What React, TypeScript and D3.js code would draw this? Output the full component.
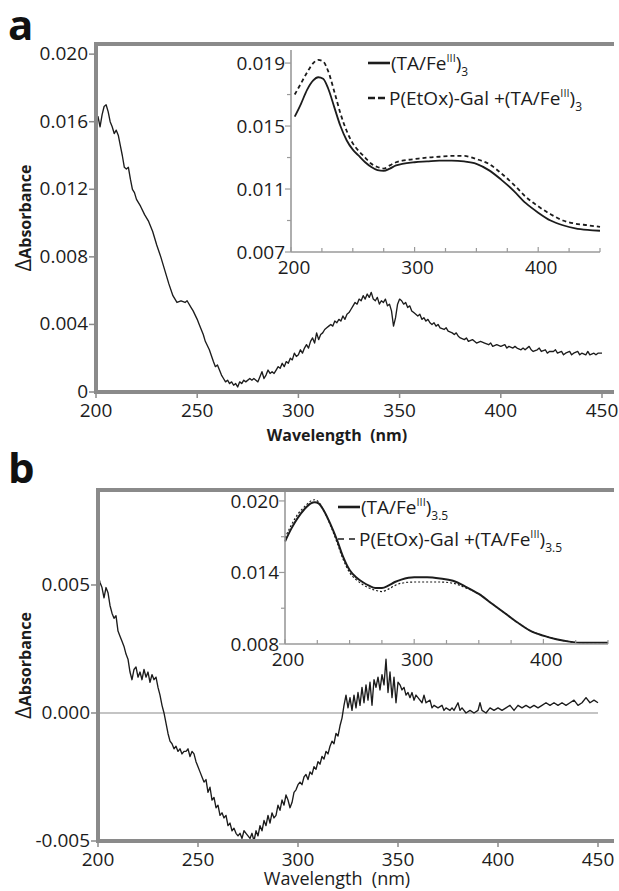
import React from "react";
import * as d3 from "d3";

// ---- data ----
// panel a: difference spectrum, [wavelength nm, delta absorbance]
const diffA: [number, number][] = [
  [200, 0.016], [201, 0.0163], [202, 0.0157], [203, 0.0164], [204, 0.0169], [205, 0.017], [206, 0.0166],
  [207, 0.016], [208, 0.0157], [209, 0.0153], [210, 0.0155], [211, 0.0152], [212, 0.0146], [213, 0.014],
  [214, 0.0133], [215, 0.0132], [216, 0.0133], [217, 0.0126], [218, 0.012], [219, 0.0118], [220, 0.0114],
  [222, 0.011], [224, 0.0105], [226, 0.0101], [228, 0.0095], [230, 0.0087], [232, 0.008], [234, 0.0072],
  [236, 0.0064], [238, 0.0057], [240, 0.0053], [242, 0.0054], [244, 0.0053], [245, 0.0054], [247, 0.005],
  [248, 0.0048], [250, 0.0043], [251, 0.004], [253, 0.0034], [254, 0.003], [256, 0.0025], [258, 0.0018],
  [259, 0.0015], [260, 0.0016], [261, 0.0013], [262, 0.001], [263, 0.0008], [264, 0.0006], [265, 0.0007],
  [266, 0.0005], [267, 0.0006], [268, 0.0004], [269, 0.0005], [270, 0.0003], [271, 0.0006], [272, 0.0005],
  [273, 0.0007], [274, 0.0006], [276, 0.0008], [277, 0.0007], [278, 0.0008], [279, 0.0007], [280, 0.0006],
  [281, 0.0009], [282, 0.0012], [283, 0.0008], [284, 0.001], [285, 0.0013], [286, 0.0011], [287, 0.0012],
  [288, 0.0011], [289, 0.0013], [290, 0.0015], [291, 0.0014], [292, 0.0017], [293, 0.0015], [294, 0.0018],
  [295, 0.0017], [296, 0.002], [297, 0.0019], [298, 0.0023], [299, 0.0021], [300, 0.0022], [301, 0.0025],
  [302, 0.0023], [303, 0.0026], [304, 0.0028], [305, 0.0026], [306, 0.003], [307, 0.0032], [308, 0.0029],
  [309, 0.0035], [310, 0.0031], [311, 0.0034], [312, 0.0035], [313, 0.0037], [314, 0.0038], [315, 0.0039],
  [316, 0.004], [317, 0.0039], [318, 0.0042], [319, 0.0041], [320, 0.0043], [321, 0.0042], [322, 0.0045],
  [323, 0.0043], [324, 0.0046], [325, 0.0047], [326, 0.0049], [327, 0.0051], [328, 0.0053], [329, 0.0052],
  [330, 0.0055], [331, 0.0054], [332, 0.0057], [333, 0.0055], [334, 0.0058], [335, 0.0056], [336, 0.0059],
  [337, 0.0055], [338, 0.0054], [339, 0.0056], [340, 0.0052], [341, 0.0054], [342, 0.0053], [343, 0.0055],
  [344, 0.0051], [345, 0.0052], [346, 0.0048], [347, 0.0039], [348, 0.0044], [349, 0.0052], [350, 0.0055],
  [351, 0.0054], [352, 0.0052], [353, 0.0053], [354, 0.005], [355, 0.0051], [356, 0.0048], [357, 0.0047],
  [358, 0.0046], [359, 0.0045], [360, 0.0046], [361, 0.0043], [362, 0.0044], [363, 0.0042], [364, 0.0043],
  [365, 0.0041], [366, 0.004], [367, 0.0041], [368, 0.0039], [369, 0.004], [370, 0.0038], [372, 0.0037],
  [373, 0.0038], [374, 0.0036], [376, 0.0035], [377, 0.0034], [378, 0.0035], [379, 0.0033], [380, 0.0032],
  [382, 0.0031], [383, 0.0032], [384, 0.003], [386, 0.0031], [387, 0.003], [388, 0.0029], [390, 0.003],
  [392, 0.0029], [394, 0.0028], [395, 0.0029], [396, 0.0027], [398, 0.0028], [400, 0.0027], [402, 0.0028],
  [403, 0.0026], [404, 0.0027], [406, 0.0026], [407, 0.0027], [408, 0.0026], [410, 0.0025], [411, 0.0026],
  [412, 0.0025], [414, 0.0027], [415, 0.0025], [416, 0.0024], [418, 0.0025], [419, 0.0026], [420, 0.0024],
  [422, 0.0025], [423, 0.0023], [424, 0.0024], [426, 0.0024], [427, 0.0025], [428, 0.0023], [430, 0.0024],
  [431, 0.0022], [432, 0.0023], [434, 0.0024], [435, 0.0022], [436, 0.0023], [438, 0.0024], [439, 0.0022],
  [440, 0.0023], [442, 0.0022], [443, 0.0024], [444, 0.0022], [446, 0.0023], [447, 0.0022], [448, 0.0023],
  [450, 0.0023],
];

// panel a inset: absorbance spectra
const insetA_solid: [number, number][] = [
  [203, 0.0156], [208, 0.0164], [213, 0.0173], [218, 0.0179], [222, 0.0181], [226, 0.018], [230, 0.0174],
  [235, 0.0162], [240, 0.015], [245, 0.0141], [250, 0.0135], [255, 0.0131], [260, 0.0127], [265, 0.0124],
  [270, 0.0122], [275, 0.01215], [280, 0.0123], [285, 0.0125], [290, 0.0126], [300, 0.0127], [310, 0.01275],
  [320, 0.0128], [330, 0.0128], [340, 0.01275], [350, 0.0126], [360, 0.0122], [370, 0.0116], [380, 0.0109],
  [390, 0.0101], [400, 0.0095], [410, 0.009], [420, 0.0087], [430, 0.0085], [440, 0.0084], [450, 0.00835],
];
const insetA_dashed: [number, number][] = [
  [203, 0.017], [208, 0.0177], [213, 0.0184], [218, 0.019], [222, 0.0192], [226, 0.0191], [230, 0.0185],
  [235, 0.0172], [240, 0.0158], [245, 0.0147], [250, 0.0139], [255, 0.0134], [260, 0.013], [265, 0.0126],
  [270, 0.0124], [275, 0.0123], [280, 0.0125], [285, 0.0127], [290, 0.0128], [300, 0.0129], [310, 0.013],
  [320, 0.01305], [330, 0.0131], [340, 0.0131], [350, 0.0129], [360, 0.0126], [370, 0.012], [380, 0.0113],
  [390, 0.0105], [400, 0.0099], [410, 0.0094], [420, 0.009], [430, 0.0088], [440, 0.0087], [450, 0.0086],
];

// panel b: difference spectrum
const diffB: [number, number][] = [
  [200, 0.0054], [201, 0.0051], [202, 0.0049], [203, 0.0045], [204, 0.0049], [205, 0.0047], [206, 0.0042],
  [207, 0.0039], [208, 0.0037], [209, 0.0038], [210, 0.0032], [211, 0.003], [212, 0.0028], [213, 0.0026],
  [214, 0.0023], [215, 0.0021], [216, 0.0016], [217, 0.0013], [218, 0.0017], [219, 0.0018], [220, 0.0014],
  [221, 0.0016], [222, 0.0013], [223, 0.0017], [224, 0.0014], [225, 0.0016], [226, 0.0012], [227, 0.0015],
  [228, 0.0013], [229, 0.0014], [230, 0.001], [231, 0.0007], [232, 0.0003], [233, 0.0], [234, -0.0004],
  [235, -0.0008], [236, -0.0011], [237, -0.0012], [238, -0.0014], [239, -0.0013], [240, -0.0015],
  [241, -0.0014], [242, -0.0016], [243, -0.0015], [244, -0.0015], [245, -0.0014], [246, -0.0017],
  [247, -0.0015], [248, -0.0016], [249, -0.0019], [250, -0.0021], [251, -0.0023], [252, -0.0025],
  [253, -0.0027], [254, -0.0026], [255, -0.0031], [256, -0.0029], [257, -0.0034], [258, -0.0033],
  [259, -0.0037], [260, -0.0036], [261, -0.004], [262, -0.0039], [263, -0.0041], [264, -0.004],
  [265, -0.0044], [266, -0.0043], [267, -0.0046], [268, -0.0045], [269, -0.0047], [270, -0.0048],
  [271, -0.0047], [272, -0.0049], [273, -0.0046], [274, -0.0047], [275, -0.0048], [276, -0.0049],
  [277, -0.0047], [278, -0.005], [279, -0.0046], [280, -0.0048], [281, -0.0044], [282, -0.0046],
  [283, -0.0042], [284, -0.0044], [285, -0.004], [286, -0.0043], [287, -0.0039], [288, -0.0041],
  [289, -0.004], [290, -0.0036], [291, -0.0038], [292, -0.0034], [293, -0.0036], [294, -0.0032],
  [295, -0.0034], [296, -0.0037], [297, -0.0035], [298, -0.0031], [299, -0.003], [300, -0.0028],
  [301, -0.0027], [302, -0.0028], [303, -0.0025], [304, -0.0024], [305, -0.0026], [306, -0.0023],
  [307, -0.0024], [308, -0.0021], [309, -0.0022], [310, -0.0019], [311, -0.002], [312, -0.0017],
  [313, -0.0018], [314, -0.0015], [315, -0.0016], [316, -0.0013], [317, -0.0011], [318, -0.0012],
  [319, -0.0008], [320, -0.0009], [321, -0.0005], [322, -0.0002], [323, 0.0003], [324, 0.0007],
  [325, 0.0002], [326, 0.0006], [327, 0.0001], [328, 0.0007], [329, 0.0002], [330, 0.0008], [331, 0.0003],
  [332, 0.001], [333, 0.0004], [334, 0.0011], [335, 0.0005], [336, 0.0012], [337, 0.0003], [338, 0.0013],
  [339, 0.001], [340, 0.0014], [341, 0.0009], [342, 0.0015], [343, 0.0011], [344, 0.0021], [345, 0.0008],
  [346, 0.0016], [347, 0.0006], [348, 0.0014], [349, 0.0004], [350, 0.0012], [351, 0.0011], [352, 0.0009],
  [353, 0.001], [354, 0.0007], [355, 0.0008], [356, 0.0006], [357, 0.0008], [358, 0.0005], [359, 0.0007],
  [360, 0.0006], [362, 0.0004], [363, 0.0007], [364, 0.0004], [366, 0.0005], [367, 0.0002], [368, 0.0003],
  [370, 0.0002], [372, 0.0003], [373, 0.0001], [374, 0.0002], [376, 0.0001], [377, 0.0002], [378, 0.0001],
  [380, 0.0004], [381, 0.0001], [382, 0.0002], [384, 0.0], [386, 0.0001], [388, 0.0], [390, 0.0001],
  [391, 0.0004], [392, 0.0001], [394, 0.0], [396, 0.0002], [398, 0.0001], [400, 0.0002], [402, 0.0001],
  [404, 0.0002], [406, 0.0003], [408, 0.0001], [410, 0.0003], [412, 0.0002], [414, 0.0003], [416, 0.0002],
  [418, 0.0003], [420, 0.0002], [422, 0.0003], [424, 0.0004], [426, 0.0003], [428, 0.0004], [430, 0.0003],
  [432, 0.0004], [434, 0.0003], [436, 0.0004], [438, 0.0005], [440, 0.0003], [442, 0.0004], [444, 0.0006],
  [446, 0.0004], [448, 0.0005], [450, 0.0004],
];

// panel b inset
const insetB_solid: [number, number][] = [
  [200, 0.0166], [205, 0.0177], [210, 0.0186], [215, 0.0193], [220, 0.0198], [223, 0.0199], [226, 0.0198],
  [230, 0.0192], [235, 0.0181], [240, 0.0168], [245, 0.0153], [250, 0.0142], [255, 0.0136], [260, 0.0132],
  [265, 0.0129], [270, 0.0127], [275, 0.0127], [280, 0.0129], [285, 0.0132], [290, 0.0134], [300, 0.0136],
  [310, 0.0136], [320, 0.0135], [330, 0.0133], [340, 0.0128], [350, 0.0122], [360, 0.0114], [370, 0.0106],
  [380, 0.0098], [390, 0.0091], [400, 0.0087], [410, 0.0084], [420, 0.0082], [430, 0.0081], [440, 0.0081],
  [450, 0.0081],
];
const insetB_dotted: [number, number][] = [
  [200, 0.0169], [205, 0.018], [210, 0.0189], [215, 0.0195], [220, 0.02], [223, 0.0201], [226, 0.0199],
  [230, 0.0192], [235, 0.018], [240, 0.0166], [245, 0.0151], [250, 0.014], [255, 0.0134], [260, 0.013],
  [265, 0.0127], [270, 0.0125], [275, 0.0124], [280, 0.0126], [285, 0.0129], [290, 0.0131], [300, 0.0132],
  [310, 0.0132], [320, 0.0132], [330, 0.0131], [340, 0.0127], [350, 0.0122], [360, 0.0114], [370, 0.0106],
  [380, 0.0098], [390, 0.0091], [400, 0.0087], [410, 0.0084], [420, 0.0082], [430, 0.0081], [440, 0.0081],
  [450, 0.0081],
];

// ticks
const xTicksMain = [200, 250, 300, 350, 400, 450];
const yTicksA = [0, 0.004, 0.008, 0.012, 0.016, 0.02];
const yLabelsA = ["0", "0.004", "0.008", "0.012", "0.016", "0.020"];
const yTicksB = [-0.005, 0, 0.005];
const yLabelsB = ["-0.005", "0.000", "0.005"];
const xTicksInset = [200, 300, 400];
const xMinorInset = [225, 250, 275, 325, 350, 375, 425, 450];
const yTicksInsetA = [0.007, 0.011, 0.015, 0.019];
const yMinorInsetA = [0.009, 0.013, 0.017];
const yTicksInsetB = [0.008, 0.014, 0.02];
const yMinorInsetB = [0.011, 0.017];

const FONT = "'Open Sans', 'DejaVu Sans', sans-serif";
const FRAME = "#8a8a8a";
const AXIS = "#9a9a9a";
const INK = "#1c1c1c";

type Pt = [number, number];

function Legend({ x, y1, y2, sub, dotted }: { x: number; y1: number; y2: number; sub: string; dotted: boolean }) {
  const label = (prefix: string) => (
    <>
      {prefix}(TA/Fe<tspan fontSize={11} dy={-8}>III</tspan>
      <tspan dy={8}>)</tspan>
      <tspan fontSize={12} dy={6}>{sub}</tspan>
    </>
  );
  return (
    <g fontFamily={FONT} fontSize={19} fill={INK}>
      <line x1={x} x2={x + 22} y1={y1} y2={y1} stroke={INK} strokeWidth={2.6} />
      <text x={x + 23} y={y1 + 7}>{label("")}</text>
      <line
        x1={x}
        x2={x + 20}
        y1={y2}
        y2={y2}
        stroke={INK}
        strokeWidth={dotted ? 1.6 : 2.4}
        strokeDasharray={dotted ? "6,5" : "7,3"}
      />
      <text x={x + 21} y={y2 + 7}>{label("P(EtOx)-Gal +")}</text>
    </g>
  );
}

function Panel({
  top, bottom, x0, x1, yDomain, data, yTicks, yLabels, zeroLine, letter, letterY, xLabelBold, xLabelY,
}: {
  top: number; bottom: number; x0: number; x1: number; yDomain: [number, number]; data: Pt[];
  yTicks: number[]; yLabels: string[]; zeroLine: boolean; letter: string; letterY: number;
  xLabelBold: boolean; xLabelY: number;
}) {
  const x = d3.scaleLinear().domain([200, 450]).range([x0, x1]);
  const y = d3.scaleLinear().domain(yDomain).range([bottom, top]);
  const path = d3.line<Pt>().x((d) => x(d[0])).y((d) => y(d[1]))(data) || "";
  const midY = (top + y(yDomain[0])) / 2;
  return (
    <g fontFamily={FONT}>
      <text x={8} y={letterY} fontSize={42} fontWeight="bold" fill="#111">{letter}</text>
      {zeroLine && (
        <line x1={x0} x2={x(450)} y1={y(0)} y2={y(0)} stroke="#c4c4c4" strokeWidth={2} />
      )}
      <path d={path} fill="none" stroke={INK} strokeWidth={1.35} strokeLinejoin="round" />
      {/* frame */}
      <line x1={x0} x2={614} y1={top} y2={top} stroke={FRAME} strokeWidth={4} />
      <line x1={x0} x2={x0} y1={top - 2} y2={bottom + 2} stroke={FRAME} strokeWidth={4} />
      <line x1={x0} x2={614} y1={bottom} y2={bottom} stroke={FRAME} strokeWidth={4} />
      {yTicks.map((t, i) => (
        <g key={t}>
          <line x1={x0 - 7} x2={x0} y1={y(t)} y2={y(t)} stroke={FRAME} strokeWidth={1.5} />
          <text x={x0 - 8} y={y(t) + 6} fontSize={19} textAnchor="end" fill={INK}>{yLabels[i]}</text>
        </g>
      ))}
      {xTicksMain.map((t) => (
        <g key={t}>
          <line x1={x(t)} x2={x(t)} y1={bottom} y2={bottom + 6} stroke={FRAME} strokeWidth={1.5} />
          <text x={x(t)} y={bottom + 25} fontSize={19} textAnchor="middle" fill={INK}>{t}</text>
        </g>
      ))}
      <text
        transform={`translate(31,${midY}) rotate(-90)`}
        textAnchor="middle"
        fill={INK}
      >
        <tspan fontSize={22}>Δ</tspan>
        <tspan fontSize={16} fontWeight="bold">Absorbance</tspan>
      </text>
      <text
        x={337}
        y={xLabelY}
        textAnchor="middle"
        fontSize={xLabelBold ? 16 : 18}
        fontWeight={xLabelBold ? "bold" : "normal"}
        fill={INK}
        xmlSpace="preserve"
      >
        Wavelength  (nm)
      </text>
    </g>
  );
}

function Inset({
  x0, x1, top, bottom, yDomain, solid, second, yTicks, yMinor, dotted,
}: {
  x0: number; x1: number; top: number; bottom: number; yDomain: [number, number];
  solid: Pt[]; second: Pt[]; yTicks: number[]; yMinor: number[]; dotted: boolean;
}) {
  const x = d3.scaleLinear().domain([200, 450]).range([x0, x1]);
  const y = d3.scaleLinear().domain(yDomain).range([bottom, top]);
  const gen = d3.line<Pt>().x((d) => x(d[0])).y((d) => y(d[1])).curve(d3.curveMonotoneX);
  return (
    <g fontFamily={FONT}>
      <path d={gen(solid) || ""} fill="none" stroke={INK} strokeWidth={dotted ? 2 : 1.8} />
      <path
        d={gen(second) || ""}
        fill="none"
        stroke={INK}
        strokeWidth={dotted ? 1.2 : 1.8}
        strokeDasharray={dotted ? "2,2" : "4,3"}
      />
      <line x1={x0} x2={x0} y1={top} y2={bottom} stroke={AXIS} strokeWidth={1.6} />
      <line x1={x0} x2={x(450)} y1={bottom} y2={bottom} stroke={AXIS} strokeWidth={1.6} />
      {yTicks.map((t) => (
        <g key={t}>
          <line x1={x0 - 6} x2={x0} y1={y(t)} y2={y(t)} stroke={AXIS} strokeWidth={1.2} />
          <text x={x0 - 6} y={y(t) + 7} fontSize={19} textAnchor="end" fill={INK}>{t.toFixed(3)}</text>
        </g>
      ))}
      {yMinor.map((t) => (
        <line key={t} x1={x0 - 4} x2={x0} y1={y(t)} y2={y(t)} stroke={AXIS} strokeWidth={1.2} />
      ))}
      {xTicksInset.map((t) => (
        <g key={t}>
          <line x1={x(t)} x2={x(t)} y1={bottom} y2={bottom - 5} stroke={AXIS} strokeWidth={1.2} />
          <text x={x(t) + 3} y={bottom + 22} fontSize={19} textAnchor="middle" fill={INK}>{t}</text>
        </g>
      ))}
      {xMinorInset.map((t) => (
        <line key={t} x1={x(t)} x2={x(t)} y1={bottom} y2={bottom - 4} stroke={AXIS} strokeWidth={1.2} />
      ))}
    </g>
  );
}

export default function App() {
  return (
    <svg
      width={619}
      height={891}
      viewBox="0 0 619 891"
      style={{ position: "absolute", left: 0, top: 0, background: "#fff" }}
    >
      <rect width={619} height={891} fill="#fff" />
      <Panel
        top={44} bottom={392} x0={96} x1={602} yDomain={[0, 0.0206]} data={diffA}
        yTicks={yTicksA} yLabels={yLabelsA} zeroLine={false} letter="a" letterY={40}
        xLabelBold={true} xLabelY={441}
      />
      <Inset
        x0={291} x1={600} top={50} bottom={252} yDomain={[0.007, 0.01983]}
        solid={insetA_solid} second={insetA_dashed} yTicks={yTicksInsetA} yMinor={yMinorInsetA} dotted={false}
      />
      <Legend x={368} y1={63} y2={98} sub="3" dotted={false} />

      <Panel
        top={490} bottom={841} x0={98} x1={598} yDomain={[-0.005, 0.00871]} data={diffB}
        yTicks={yTicksB} yLabels={yLabelsB} zeroLine={true} letter="b" letterY={483}
        xLabelBold={false} xLabelY={885}
      />
      <Inset
        x0={285} x1={608} top={492} bottom={644} yDomain={[0.008, 0.02075]}
        solid={insetB_solid} second={insetB_dotted} yTicks={yTicksInsetB} yMinor={yMinorInsetB} dotted={true}
      />
      <Legend x={338} y1={507} y2={539} sub="3.5" dotted={true} />
    </svg>
  );
}
